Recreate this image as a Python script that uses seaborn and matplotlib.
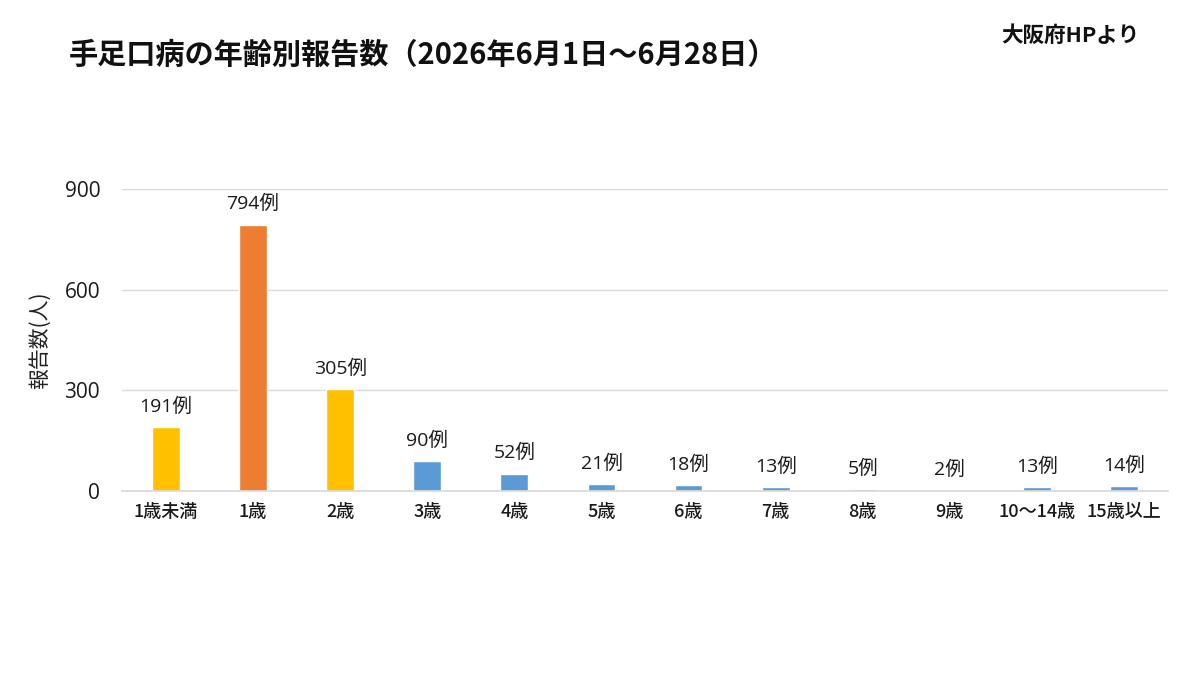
import numpy as np
import pandas as pd
import matplotlib
matplotlib.use("Agg")
import matplotlib.pyplot as plt
import seaborn as sns

# data
ages = ["1歳未満", "1歳", "2歳", "3歳", "4歳", "5歳", "6歳", "7歳", "8歳", "9歳", "10～14歳", "15歳以上"]
counts = [191, 794, 305, 90, 52, 21, 18, 13, 5, 2, 13, 14]
groups = ["y", "o", "y", "b", "b", "b", "b", "b", "b", "b", "b", "b"]

palette = {"y": "#FFC000", "o": "#ED7D31", "b": "#5B9BD5"}

sns.set_theme(style="white")
plt.rcParams['font.family'] = ['Noto Sans CJK JP', 'DejaVu Sans']
num_font = ['Open Sans', 'Noto Sans CJK JP', 'DejaVu Sans']

df = pd.DataFrame({"age": ages, "count": counts, "grp": groups})

fig = plt.figure(figsize=(12, 6.75), dpi=100)
ax = fig.add_axes([0.102, 0.2726, 0.871, 0.4474])

sns.barplot(data=df, x="age", y="count", hue="grp", palette=palette,
            dodge=False, width=0.32, legend=False, ax=ax, saturation=1)

ax.set_ylim(0, 900)
ax.set_xlim(-0.5, len(ages) - 0.5)
ax.set_yticks([0, 300, 600, 900])
ax.yaxis.grid(True, color="#d9d9d9", linewidth=1)
ax.set_axisbelow(True)
for s in ["top", "right", "left"]:
    ax.spines[s].set_visible(False)
ax.spines["bottom"].set_color("#d9d9d9")
ax.tick_params(axis="both", length=0, colors="#1a1a1a")
ax.tick_params(axis="x", pad=9)
ax.tick_params(axis="y", pad=16)
for t in ax.get_yticklabels():
    t.set_family(num_font)
    t.set_fontsize(15)
for t in ax.get_xticklabels():
    t.set_fontsize(13)
    t.set_fontweight("medium")
ax.set_xlabel("")
ax.set_ylabel("報告数(人)", fontsize=15, color="#222222", labelpad=10)

# value labels
for i, v in enumerate(counts):
    ax.annotate(f"{v}例", (i, v), xytext=(0, 8), textcoords="offset points",
                ha="center", va="bottom", fontsize=14, color="#1a1a1a",
                family=num_font)

fig.text(0.057, 0.918, "手足口病の年齢別報告数（2026年6月1日～6月28日）",
         fontsize=21, fontweight="bold", ha="left", va="center", color="#111111")
fig.text(0.834, 0.948, "大阪府HPより", fontsize=15.5, fontweight="bold",
         ha="left", va="center", color="#111111")

fig.savefig("out.png", dpi=100, facecolor="white")
